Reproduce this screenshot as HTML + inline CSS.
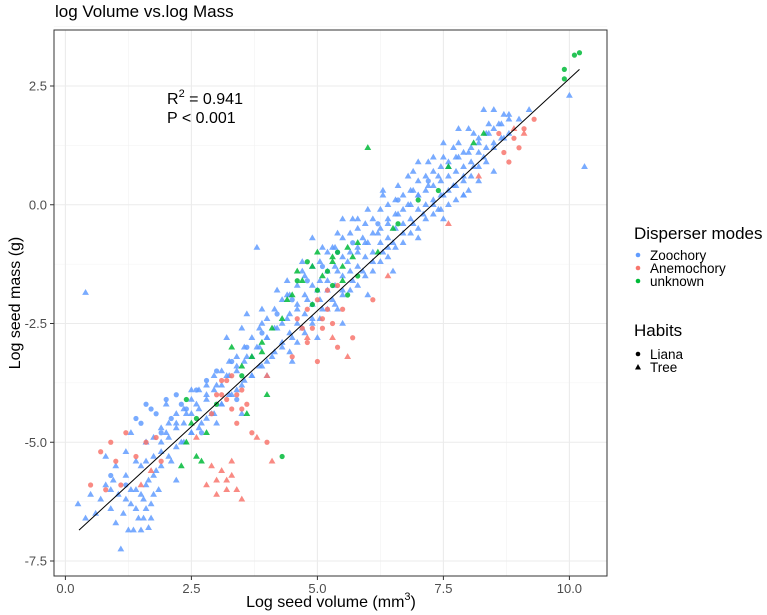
<!DOCTYPE html>
<html><head><meta charset="utf-8"><style>
body{margin:0;background:#fff;}
svg{display:block;font-family:"Liberation Sans",Arial,sans-serif;}
</style></head><body>
<svg id="chart" width="767" height="615" viewBox="0 0 767 615">
<text x="55" y="17" font-size="17" fill="#000">log Volume vs.log Mass</text>
<rect x="54" y="30" width="553" height="546" fill="#fff"/>
<g id="grid"></g>
<g id="marks"></g>
<line id="fitline" stroke="#000" stroke-width="1"/>
<rect x="54" y="30" width="553" height="546" fill="none" stroke="#333" stroke-width="1"/>
<g id="axes"></g>
<text x="167" y="104" font-size="16">R<tspan dy="-7" font-size="11">2</tspan><tspan dy="7"> = 0.941</tspan></text>
<text x="167" y="123" font-size="16">P &lt; 0.001</text>
<text x="331" y="607" font-size="16" text-anchor="middle">Log seed volume (mm<tspan dy="-7" font-size="11">3</tspan><tspan dy="7">)</tspan></text>
<text transform="translate(20,303) rotate(-90)" font-size="16" text-anchor="middle">Log seed mass (g)</text>
<g>
<text x="634" y="239" font-size="17">Disperser modes</text>
<circle cx="638" cy="255" r="2.3" fill="#619CFF"/>
<text x="650" y="260" font-size="13.5">Zoochory</text>
<circle cx="638" cy="268" r="2.3" fill="#F8766D"/>
<text x="650" y="273" font-size="13.5">Anemochory</text>
<circle cx="638" cy="281" r="2.3" fill="#00BA38"/>
<text x="650" y="286" font-size="13.5">unknown</text>
<text x="634" y="336" font-size="17">Habits</text>
<circle cx="638" cy="354" r="2.3" fill="#000"/>
<text x="650" y="359" font-size="13.5">Liana</text>
<polygon points="638,364 641,369.5 635,369.5" fill="#000"/>
<text x="650" y="372" font-size="13.5">Tree</text>
</g>
</svg>
<script>
const xTicks=[0,2.5,5,7.5,10];
const xTickLabels=["0.0","2.5","5.0","7.5","10.0"];
const yTicks=[2.5,0,-2.5,-5,-7.5];
const yTickLabels=["2.5","0.0","-2.5","-5.0","-7.5"];
const fitStart=[0.27,-6.85];
const fitEnd=[10.2,2.85];
const zooTree=[[0.25,-6.3],[0.4,-6.6],[0.5,-6.1],[0.6,-6.5],[0.7,-6.2],[0.8,-5.9],[0.9,-6.4],[0.95,-5.8],[1.0,-6.7],[1.05,-6.1],[1.1,-7.25],[1.15,-6.5],[1.2,-5.7],[1.25,-6.85],[1.3,-6.3],[1.35,-6.85],[1.4,-6.0],[1.45,-6.6],[1.5,-6.85],[1.5,-5.5],[1.55,-6.2],[1.6,-6.4],[1.65,-5.8],[1.7,-6.6],[1.75,-6.1],[1.8,-5.6],[1.85,-6.0],[1.2,-5.2],[1.4,-5.4],[1.0,-5.5],[0.8,-5.3],[1.6,-5.0],[1.9,-5.2],[2.0,-4.8],[2.1,-5.4],[2.2,-4.6],[2.3,-5.0],[2.4,-4.4],[2.5,-4.8],[2.6,-4.2],[2.7,-4.6],[2.8,-4.0],[2.9,-4.4],[3.0,-3.8],[3.1,-4.2],[3.2,-3.6],[3.3,-4.0],[3.4,-3.4],[3.5,-3.8],[3.6,-3.2],[3.7,-3.6],[3.8,-3.0],[3.8,-0.9],[3.9,-3.4],[4.0,-2.8],[4.1,-3.2],[4.2,-2.6],[4.3,-3.0],[4.4,-2.4],[4.5,-2.8],[4.6,-2.2],[4.7,-2.6],[4.8,-2.0],[4.9,-2.4],[5.0,-1.8],[5.1,-2.2],[5.2,-1.6],[5.3,-2.0],[5.4,-1.4],[5.5,-1.8],[5.6,-1.2],[5.7,-1.6],[5.8,-1.0],[5.9,-1.4],[6.0,-0.8],[6.1,-1.2],[6.2,-0.6],[6.3,-1.0],[6.4,-0.4],[6.5,-0.8],[6.6,-0.2],[6.7,-0.6],[6.8,0.0],[6.9,-0.4],[7.0,0.2],[7.1,-0.2],[7.2,0.4],[7.3,0.0],[7.4,0.6],[7.5,0.2],[7.6,0.8],[7.7,0.4],[7.8,1.0],[7.9,0.6],[8.0,1.1],[8.1,0.8],[8.2,1.3],[8.3,1.0],[8.4,1.5],[8.5,1.2],[8.6,1.7],[8.7,1.4],[8.8,1.9],[9.0,1.8],[9.2,2.0],[10.0,2.3],[10.3,0.8],[0.4,-1.85],[2.0,-4.2],[2.5,-3.9],[3.0,-4.6],[3.5,-4.4],[4.0,-3.6],[4.5,-3.3],[5.0,-2.8],[5.5,-2.5],[6.0,-1.9],[6.5,-1.4],[7.0,-0.7],[7.5,-0.3],[8.0,0.3],[8.5,0.7],[4.2,-1.8],[4.7,-1.4],[5.3,-0.9],[5.8,-0.3],[6.3,0.2],[6.8,0.6],[7.3,1.0],[7.8,1.6],[8.3,2.0],[3.2,-2.8],[3.6,-2.3],[4.9,-0.7],[5.5,-0.3],[7.0,0.9],[7.5,1.3],[8.0,1.6],[8.5,2.0],[7.7,1.2],[7.9,0.2],[8.2,0.5],[7.4,-0.1],[6.9,0.3],[6.4,-0.9],[5.9,-0.7],[5.4,-2.2],[4.4,-1.9],[3.9,-2.5],[2.2,-5.8],[1.3,-4.8]];
const zooTreeBand=[[1.6,-5.0],[1.6,-5.4],[1.6,-5.9],[1.75,-4.9],[1.75,-5.3],[1.75,-5.7],[1.9,-4.7],[1.9,-5.0],[1.9,-5.5],[2.05,-4.6],[2.05,-4.9],[2.05,-5.3],[2.2,-4.4],[2.2,-4.7],[2.2,-5.1],[2.35,-4.3],[2.35,-4.6],[2.35,-5.0],[2.5,-4.1],[2.5,-4.4],[2.5,-4.8],[2.65,-3.9],[2.65,-4.3],[2.65,-4.7],[2.8,-3.8],[2.8,-4.1],[2.8,-4.5],[2.95,-3.6],[2.95,-3.9],[2.95,-4.4],[3.1,-3.5],[3.1,-3.8],[3.1,-4.2],[3.25,-3.3],[3.25,-3.6],[3.25,-4.0],[3.4,-3.2],[3.4,-3.5],[3.4,-3.9],[3.55,-3.0],[3.55,-3.3],[3.55,-3.7],[3.7,-2.8],[3.7,-3.2],[3.7,-3.6],[3.85,-2.6],[3.85,-3.0],[3.85,-3.4],[4.0,-2.4],[4.0,-2.8],[4.0,-3.3],[4.15,-2.2],[4.15,-2.6],[4.15,-3.1],[4.3,-2.0],[4.3,-2.5],[4.3,-2.9],[4.45,-1.9],[4.45,-2.3],[4.45,-2.7],[4.45,-3.1],[4.6,-1.7],[4.6,-2.1],[4.6,-2.5],[4.6,-2.9],[4.75,-1.5],[4.75,-1.9],[4.75,-2.3],[4.75,-2.7],[4.9,-1.3],[4.9,-1.7],[4.9,-2.1],[4.9,-2.5],[5.05,-1.2],[5.05,-1.6],[5.05,-2.0],[5.05,-2.4],[5.2,-1.0],[5.2,-1.4],[5.2,-1.8],[5.2,-2.2],[5.35,-0.9],[5.35,-1.3],[5.35,-1.7],[5.35,-2.1],[5.5,-0.7],[5.5,-1.1],[5.5,-1.5],[5.5,-1.9],[5.65,-0.6],[5.65,-1.0],[5.65,-1.4],[5.65,-1.8],[5.8,-0.5],[5.8,-0.9],[5.8,-1.3],[5.8,-1.7],[5.95,-0.4],[5.95,-0.8],[5.95,-1.1],[5.95,-1.5],[6.1,-0.3],[6.1,-0.6],[6.1,-1.0],[6.1,-1.4],[6.25,-0.1],[6.25,-0.5],[6.25,-0.8],[6.25,-1.2],[6.4,0.0],[6.4,-0.3],[6.4,-0.7],[6.4,-1.1],[6.55,0.1],[6.55,-0.2],[6.55,-0.5],[6.55,-0.9],[6.7,0.2],[6.7,-0.1],[6.7,-0.4],[6.7,-0.8],[6.85,0.3],[6.85,0.0],[6.85,-0.3],[6.85,-0.6],[7.0,0.5],[7.0,0.2],[7.0,-0.1],[7.0,-0.5],[7.15,0.6],[7.15,0.3],[7.15,0.0],[7.15,-0.3],[7.3,0.7],[7.3,0.4],[7.3,0.1],[7.3,-0.2],[7.45,0.8],[7.45,0.5],[7.45,0.2],[7.45,-0.1],[7.6,0.9],[7.6,0.6],[7.6,0.3],[7.6,0.0],[7.75,1.0],[7.75,0.7],[7.75,0.4],[7.75,0.1],[7.9,1.1],[7.9,0.8],[7.9,0.5],[7.9,0.2],[8.05,1.2],[8.05,0.9],[8.05,0.6],[8.2,1.4],[8.2,1.1],[8.2,0.8],[8.35,1.5],[8.35,1.2],[8.35,0.9],[8.5,1.6],[8.5,1.3],[8.65,1.7],[8.65,1.4],[8.8,1.8],[8.8,1.5],[1.2,-6.2],[1.4,-6.4],[1.55,-6.6],[1.7,-6.3],[1.3,-6.0],[1.5,-6.1],[1.65,-6.8],[0.9,-6.0],[5.1,-0.9],[5.4,-0.6],[5.7,-0.3],[6.0,-0.1],[6.3,0.3],[6.6,0.4],[6.9,0.7],[7.2,0.9],[7.5,1.0],[7.8,1.3],[8.1,1.5],[8.4,1.7],[8.7,1.9],[4.4,-1.6],[4.7,-1.2],[3.9,-2.2],[3.5,-2.6]];
const zooLiana=[[1.4,-4.5],[1.6,-4.2],[1.8,-4.4],[2.0,-4.1],[2.2,-4.0],[1.9,-4.8],[2.4,-4.3],[2.6,-3.9],[2.8,-3.7],[3.0,-3.5],[3.3,-3.3],[3.6,-3.0],[3.9,-2.7],[4.2,-2.3],[4.5,-2.0],[4.8,-1.6],[5.1,-1.3],[5.4,-1.0],[5.7,-0.8],[6.2,-0.4],[6.6,0.1],[7.2,0.5],[0.9,-5.7],[1.2,-5.9],[2.7,-4.8],[3.4,-4.1],[1.5,-4.6],[1.7,-4.3],[2.1,-4.5],[2.3,-4.2]];
const aneLiana=[[0.7,-5.2],[0.9,-5.0],[1.0,-5.4],[1.2,-4.8],[1.4,-5.3],[1.6,-5.0],[1.8,-4.9],[1.9,-5.4],[0.5,-5.9],[0.8,-6.0],[1.1,-5.9],[2.9,-4.4],[3.1,-4.0],[3.3,-4.3],[3.5,-3.9],[3.2,-3.7],[3.4,-4.6],[3.6,-4.2],[4.5,-3.2],[4.8,-2.9],[5.1,-2.6],[5.4,-3.0],[5.0,-3.3],[5.7,-2.8],[5.2,-2.2],[4.7,-2.6],[6.1,-2.0],[3.7,-4.8],[4.0,-5.0],[8.7,1.1],[8.9,1.4],[9.1,1.6],[9.3,1.8],[8.6,1.5],[8.8,0.9],[9.0,1.2],[4.6,-2.4],[4.8,-2.2],[5.0,-2.0],[5.2,-1.8],[5.4,-1.7],[5.1,-2.4],[4.9,-2.6],[5.5,-2.2],[5.3,-2.5],[3.1,-3.7],[3.3,-3.6],[3.4,-4.0],[3.2,-4.1],[3.0,-4.0],[3.5,-4.3]];
const aneTree=[[2.8,-5.9],[3.0,-6.1],[3.2,-5.8],[3.4,-6.0],[3.1,-5.6],[3.5,-6.2],[2.9,-5.5],[3.3,-5.4],[1.5,-5.9],[1.7,-5.6],[4.8,-2.8],[5.3,-2.8],[5.6,-3.2],[6.4,-1.5],[7.6,-0.4],[8.2,0.6],[3.8,-4.9],[4.1,-5.4],[2.6,-4.9],[4.0,-3.6],[3.0,-5.8],[3.2,-6.0],[3.3,-5.7],[8.9,1.6],[9.1,1.5]];
const unkLiana=[[4.3,-5.3],[9.9,2.85],[9.9,2.65],[10.1,3.15],[10.2,3.2],[4.6,-1.6],[4.8,-1.2],[5.0,-1.8],[5.2,-1.4],[5.4,-1.0],[5.6,-1.9],[5.8,-1.5],[4.9,-2.1],[5.3,-1.7],[3.0,-4.2],[2.6,-4.5],[2.4,-4.1],[3.5,-3.6],[6.6,-0.4],[7.0,0.1],[7.4,0.3]];
const unkTree=[[6.0,1.2],[2.4,-5.0],[2.6,-5.3],[2.8,-4.8],[2.5,-4.6],[2.3,-5.5],[2.7,-5.4],[3.6,-4.4],[4.0,-4.0],[4.6,-1.4],[5.0,-1.0],[5.3,-1.2],[5.5,-1.6],[5.7,-1.1],[6.2,-1.0],[6.5,-0.5],[7.6,0.8],[3.3,-3.0],[3.9,-3.1],[4.3,-2.4],[4.7,-1.6],[4.9,-1.3],[5.1,-1.5],[5.3,-1.1],[5.5,-1.3],[5.6,-0.9],[4.5,-1.9],[4.4,-2.0],[5.8,-0.8],[3.7,-3.2],[3.9,-2.9],[4.1,-2.6],[3.5,-3.4],[8.3,1.5],[8.1,1.3]];

const X0=65.4,XS=50.4,Y0=204.75,YS=47.5;
function sx(v){return X0+v*XS;}
function sy(v){return Y0-v*YS;}
const NS="http://www.w3.org/2000/svg";
function mk(tag,attrs,parent){const e=document.createElementNS(NS,tag);for(const k in attrs)e.setAttribute(k,attrs[k]);parent.appendChild(e);return e;}
const grid=document.getElementById('grid'),axes=document.getElementById('axes'),marks=document.getElementById('marks');
for(let i=0;i<xTicks.length-1;i++){const v=(xTicks[i]+xTicks[i+1])/2;
 const g=mk('line',{x1:sx(v),x2:sx(v),y1:30,y2:576,stroke:'#f2f2f2','stroke-width':0.6},grid);
 
 }
for(let i=0;i<yTicks.length-1;i++){const v=(yTicks[i]+yTicks[i+1])/2;
 const g=mk('line',{x1:54,x2:607,y1:sy(v),y2:sy(v),stroke:'#f2f2f2','stroke-width':0.6},grid);
 
 }
{const v=yTicks[0]+1.25;const g=mk('line',{x1:54,x2:607,y1:sy(v),y2:sy(v),stroke:'#f2f2f2','stroke-width':0.6},grid);
 
 }
xTicks.forEach((v,i)=>{
 const g=mk('line',{x1:sx(v),x2:sx(v),y1:30,y2:576,stroke:'#ebebeb','stroke-width':1.1},grid);
 
 
 const t=mk('line',{x1:sx(v),x2:sx(v),y1:576,y2:580,stroke:'#333','stroke-width':1},axes);
 
 
 const l=mk('text',{x:sx(v),y:593,'font-size':13,fill:'#4d4d4d','text-anchor':'middle'},axes);
 l.textContent=xTickLabels[i];
 
 
});
yTicks.forEach((v,i)=>{
 const g=mk('line',{x1:54,x2:607,y1:sy(v),y2:sy(v),stroke:'#ebebeb','stroke-width':1.1},grid);
 
 
 const t=mk('line',{x1:50,x2:54,y1:sy(v),y2:sy(v),stroke:'#333','stroke-width':1},axes);
 
 
 const l=mk('text',{x:47,y:sy(v)+4.5,'font-size':13,fill:'#4d4d4d','text-anchor':'end'},axes);
 l.textContent=yTickLabels[i];
 
 
});
function drawSeries(arr,color,shape,name){
 arr.forEach(p=>{
  const x=sx(p[0]),y=sy(p[1]);let e;
  if(shape==='circle'){e=mk('circle',{cx:x,cy:y,r:2.6,fill:color,'fill-opacity':0.85},marks);}
  else{e=mk('polygon',{points:`${x},${y-3.6} ${x+3.4},${y+2.2} ${x-3.4},${y+2.2}`,fill:color,'fill-opacity':0.85},marks);}
  
  
 });
}
drawSeries(zooTree,'#619CFF','tri','point-zoochory-tree');
drawSeries(zooTreeBand,'#619CFF','tri','point-zoochory-tree');
drawSeries(zooLiana,'#619CFF','circle','point-zoochory-liana');
drawSeries(aneLiana,'#F8766D','circle','point-anemochory-liana');
drawSeries(aneTree,'#F8766D','tri','point-anemochory-tree');
drawSeries(unkLiana,'#00BA38','circle','point-unknown-liana');
drawSeries(unkTree,'#00BA38','tri','point-unknown-tree');
const fl=document.getElementById('fitline');
fl.setAttribute('x1',sx(fitStart[0]));fl.setAttribute('y1',sy(fitStart[1]));
fl.setAttribute('x2',sx(fitEnd[0]));fl.setAttribute('y2',sy(fitEnd[1]));
</script>
</body></html>
